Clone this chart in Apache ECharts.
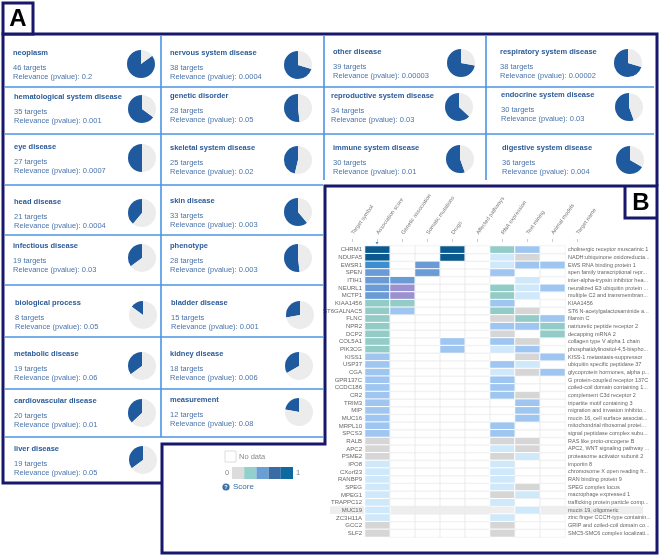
<!DOCTYPE html>
<html><head><meta charset="utf-8">
<script src="https://cdn.jsdelivr.net/npm/echarts@6/dist/echarts.min.js"></script>
<style>html,body{margin:0;padding:0;background:#fff}#chart{width:660px;height:555px}</style>
</head><body><div id="chart"></div>
<script>
// ---------- Panel A data ----------
const diseases = ['neoplasm','nervous system disease','other disease','respiratory system disease',
  'hematological system disease','genetic disorder','reproductive system disease','endocrine system disease',
  'eye disease','skeletal system disease','immune system disease','digestive system disease',
  'head disease','skin disease','infectious disease','phenotype','biological process','bladder disease',
  'metabolic disease','kidney disease','cardiovascular disease','measurement','liver disease'];
const targetCounts = [46,38,39,38,35,28,34,30,27,25,30,36,21,33,19,28,8,15,19,18,20,12,19];
const pvalues = ['0.2','0.0004','0.00003','0.00002','0.001','0.05','0.03','0.03','0.0007','0.02','0.01','0.004',
  '0.0004','0.003','0.03','0.003','0.05','0.001','0.06','0.006','0.01','0.08','0.05'];
const totalTargets = 54;

// ---------- Panel B data ----------
const headerLabels = ['Target symbol','Association score','Genetic association','Somatic mutations','Drugs',
  'Affected pathways','RNA expression','Text mining','Animal models','Target name'];
const targetSymbols = ['CHRM1','NDUFA5','EWSR1','SPEN','ITIH1','NEURL1','MCTP1','KIAA1456','ST6GALNAC5','FLNC',
  'NPR2','DCP2','COL5A1','PIK3CG','KISS1','USP37','CGA','GPR137C','CCDC186','CR2','TRIM3','MIP','MUC16',
  'MRPL10','SPCS3','RALB','APC2','PSME2','IPO8','CXorf23','RANBP9','SPEG','MPEG1','TRAPPC12','MUC19',
  'ZC3H11A','GCC2','SLF2'];
const targetNames = ['cholinergic receptor muscarinic 1','NADH:ubiquinone oxidoreducta...','EWS RNA binding protein 1',
  'spen family transcriptional repr...','inter-alpha-trypsin inhibitor hea...','neuralized E3 ubiquitin protein ...',
  'multiple C2 and transmembran...','KIAA1456','ST6 N-acetylgalactosaminide a...','filamin C',
  'natriuretic peptide receptor 2','decapping mRNA 2','collagen type V alpha 1 chain','phosphatidylinositol-4,5-bispho...',
  'KISS-1 metastasis-suppressor','ubiquitin specific peptidase 37','glycoprotein hormones, alpha p...',
  'G protein-coupled receptor 137C','coiled-coil domain containing 1...','complement C3d receptor 2',
  'tripartite motif containing 3','migration and invasion inhibito...','mucin 16, cell surface associat...',
  'mitochondrial ribosomal protei...','signal peptidase complex subu...','RAS like proto-oncogene B',
  'APC2, WNT signaling pathway ...','proteasome activator subunit 2','importin 8','chromosome X open reading fr...',
  'RAN binding protein 9','SPEG complex locus','macrophage expressed 1','trafficking protein particle comp...',
  'mucin 19, oligomeric','zinc finger CCCH-type containin...','GRIP and coiled-coil domain co...',
  'SMC5-SMC6 complex localizati...'];
// score level per row: 0 none, 1 grey, 2 teal, 3 very light blue, 4 light blue, 5 blue, 6 bright blue, 7 dark blue, 8 violet
const associationScore   = [7,7,6,5,5,5,5,2,2,2,2,2,2,2,4,4,4,4,4,4,4,4,4,4,4,1,1,1,3,3,3,3,3,3,3,3,1,1];
const geneticAssociation = [0,0,0,0,5,8,8,2,4,0,0,0,0,0,0,0,0,0,0,0,0,0,0,0,0,0,0,0,0,0,0,0,0,0,0,0,0,0];
const somaticMutations   = [0,0,5,5,0,0,0,0,0,0,0,0,0,0,0,0,0,0,0,0,0,0,0,0,0,0,0,0,0,0,0,0,0,0,0,0,0,0];
const drugs              = [7,7,0,0,0,0,0,0,0,0,0,0,4,4,0,0,0,0,0,0,0,0,0,0,0,0,0,0,0,0,0,0,0,0,0,0,0,0];
const affectedPathways   = [0,0,0,0,0,0,0,0,0,0,0,0,0,0,0,0,0,0,0,0,0,0,0,0,0,0,0,0,0,0,0,0,0,0,0,0,0,0];
const rnaExpression      = [2,3,3,4,0,2,2,4,2,1,4,1,4,3,0,4,3,4,4,4,0,0,0,4,4,1,3,1,3,3,3,3,1,3,0,3,1,1];
const textMining         = [4,1,4,0,3,3,3,0,1,2,4,0,1,4,1,3,1,0,0,1,4,4,4,0,0,1,1,3,0,0,0,1,3,0,3,0,0,0];
const animalModels       = [0,0,4,0,0,4,0,0,0,4,2,2,0,0,4,0,4,0,0,0,0,0,0,0,0,0,0,0,0,0,0,0,0,0,0,0,0,0];
const scoreColumns = [associationScore, geneticAssociation, somaticMutations, drugs, affectedPathways,
  rnaExpression, textMining, animalModels];
const highlightedRow = 'MUC19';

// ---------- styles / layout ----------
const levelColors = ['rgba(0,0,0,0)','#d6d6d6','#93cbc6','#cfe8fa','#9fc6f0','#6a9bd5','#3b8fcf','#0b5a8f','#9b91d1'];
const legendColors = ['#dcdcdc','#93cfcb','#6a9fd6','#3a6ba3','#0d6a9e'];
const NAVY = '#17186b', LINE = '#4a95e4', TITLE = '#2a5a98', TXT = '#4a74ab';
const FONT = '"Liberation Sans", Arial, sans-serif';
const cellTitlePos = [[13,53],[170,53],[333,52],[500,52],[14,97],[170,96],[331,96],[501,95],[14,147],[170,148],
  [333,148],[502,148],[14,202],[170,201],[13,246],[170,246],[15,303],[171,303],[14,354],[170,354],[14,401],[170,400],[14,449]];
const pieCenters = [[141,64],[298,65],[461,63],[628,63],[142,109],[298,108],[459,107],[629,107],[142,158],[298,160],
  [460,159],[630,160],[142,213],[298,212],[142,258],[298,258],[143,315],[300,315],[142,366],[299,366],[142,413],[299,412],[143,460]];

const chart = echarts.init(document.getElementById('chart'), null, {renderer:'canvas'});

const graphics = [];
function line(x1,y1,x2,y2,color,w){ graphics.push({type:'line',shape:{x1,y1,x2,y2},style:{stroke:color,lineWidth:w},silent:true}); }
function text(t,x,y,font,fill,align,z){ graphics.push({type:'text',x:0,y:0,z:z||5,style:{text:t,x,y,font,fill,align:align||'left',verticalAlign:'middle'},silent:true}); }

// Panel A grid lines
[87,134].forEach(y=>line(5,y,654,y,LINE,1.6));
[185,235,285,337,389,437].forEach(y=>line(5,y,323,y,LINE,1.6));
line(161,36,161,437,LINE,1.6);
line(324,36,324,180,LINE,1.6);
line(486,36,486,180,LINE,1.6);

// Panel A texts
diseases.forEach((d,i)=>{
  const [x,y] = cellTitlePos[i];
  text(d, x, y, 'bold 7.5px '+FONT, TITLE);
  text(targetCounts[i]+' targets', x, y+15, '7.5px '+FONT, TXT);
  text('Relevance (pvalue): '+pvalues[i], x, y+24, '7.5px '+FONT, TXT);
});

// Outer navy borders
graphics.push({type:'polyline',shape:{points:[[657,186],[657,34],[3,34],[3,483],[162,483]]},style:{stroke:NAVY,lineWidth:3,fill:null},silent:true,z:8});
graphics.push({type:'rect',shape:{x:3,y:3,width:30,height:31},style:{stroke:NAVY,lineWidth:3,fill:'#fff'},silent:true,z:8});
text('A',18,19,'bold 24px '+FONT,'#000','center',9);
graphics.push({type:'polygon',shape:{points:[[325,186],[657,186],[657,553],[162,553],[162,444],[325,444]]},style:{stroke:NAVY,lineWidth:3,fill:null},silent:true,z:8});
graphics.push({type:'polyline',shape:{points:[[625,186],[625,218],[657,218]]},style:{stroke:NAVY,lineWidth:3,fill:null},silent:true,z:8});
text('B',641,203,'bold 24px '+FONT,'#000','center',9);

// Legend of panel B
graphics.push({type:'rect',shape:{x:225,y:451,width:11,height:11},style:{fill:'#fff',stroke:'#dddddd',lineWidth:1},silent:true});
text('No data',239,457,'7.5px '+FONT,'#888');
text('0',227,473,'7.5px '+FONT,'#888','center');
legendColors.forEach((c,i)=>graphics.push({type:'rect',shape:{x:232+i*12.2,y:467,width:12.2,height:12},style:{fill:c},silent:true}));
text('1',298,473,'7.5px '+FONT,'#888','center');
graphics.push({type:'circle',shape:{cx:226,cy:487,r:3.6},style:{fill:'#3a6ea5'},silent:true});
text('?',226,487.3,'bold 5.5px '+FONT,'#fff','center',6);
text('Score',233,487,'8px '+FONT,'#3a6ea5');
// sort indicator
graphics.push({type:'polygon',shape:{points:[[375.5,242],[378.5,242],[377,244.5]]},style:{fill:'#3b8fd6'},silent:true});

// Series
const series = [];
diseases.forEach((d,i)=>{
  series.push({type:'pie',center:pieCenters[i],radius:14,startAngle:90,clockwise:false,silent:true,animation:false,
    label:{show:false},labelLine:{show:false},itemStyle:{borderWidth:0},emphasis:{disabled:true},
    data:[{name:d,value:targetCounts[i],itemStyle:{color:'#1f5a9e'}},
          {name:'other',value:totalTargets-targetCounts[i],itemStyle:{color:'#ececec'}}]});
});
const heatData = [];
scoreColumns.forEach((col,c)=>{
  col.forEach((lv,r)=>{
    heatData.push({value:[c+1,r,lv],itemStyle: lv ? {color:levelColors[lv],borderColor:'#fff',borderWidth:1}
                                                 : {color:'rgba(0,0,0,0)',borderColor:'#ececec',borderWidth:0.6}});
  });
});
series.push({type:'heatmap',xAxisIndex:0,yAxisIndex:0,data:heatData,silent:true,animation:false,emphasis:{disabled:true},z:3});

chart.setOption({
  animation:false,
  backgroundColor:'#fff',
  grid:{left:340,top:246,width:250,height:291,containLabel:false,show:false},
  xAxis:{type:'category',position:'top',data:headerLabels,offset:4,
    axisLine:{show:false},axisTick:{show:true,alignWithLabel:true,length:3,lineStyle:{color:'#cccccc'}},
    axisLabel:{rotate:-55,margin:8,fontSize:5.5,color:'#777',fontFamily:FONT,interval:0},splitLine:{show:false}},
  yAxis:[
    {type:'category',data:targetSymbols,inverse:true,position:'left',offset:-25,axisLine:{show:false},axisTick:{show:false},
      axisLabel:{margin:3,fontSize:6,color:'#666',fontFamily:FONT,interval:0},splitLine:{show:false}},
    {type:'category',data:targetNames,inverse:true,position:'right',offset:-25,axisLine:{show:false},axisTick:{show:false},
      axisLabel:{margin:3,fontSize:5.5,color:'#666',fontFamily:FONT,interval:0},splitLine:{show:false}}
  ],
  series:series,
  graphic:{elements:graphics}
});

// highlighted row band, positioned through the axis scale
const yc = chart.convertToPixel({yAxisIndex:0}, highlightedRow);
const rowH = 291/targetSymbols.length;
graphics.unshift({type:'rect',z:-10,shape:{x:330,y:yc-rowH/2,width:313,height:rowH},style:{fill:'#eeeeee'},silent:true});
chart.setOption({graphic:{elements:graphics}}, {replaceMerge:['graphic']});
</script></body></html>
